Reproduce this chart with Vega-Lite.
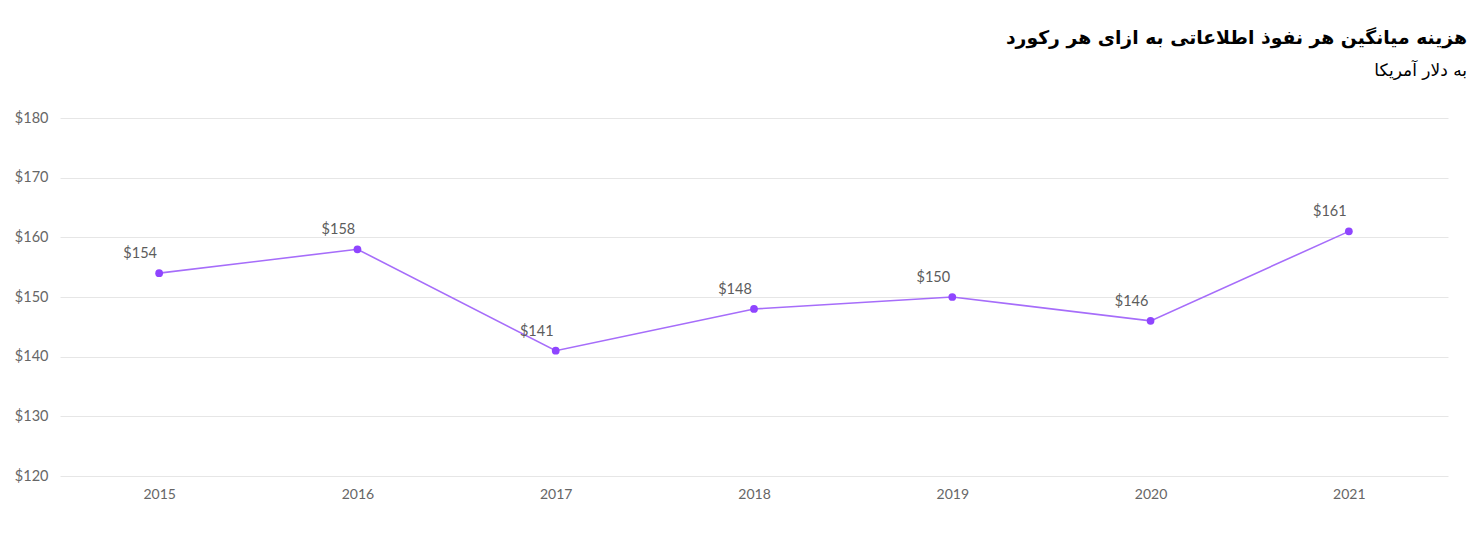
{
  "$schema": "https://vega.github.io/schema/vega-lite/v6.json",
  "width": 1388,
  "height": 358,
  "autosize": "none",
  "padding": {"left": 60, "top": 118, "right": 33, "bottom": 72},
  "background": "white",
  "title": {
    "text": "هزینه میانگین هر  نفوذ اطلاعاتی به ازای هر رکورد",
    "subtitle": "به دلار آمریکا",
    "anchor": "end",
    "dx": 19,
    "offset": 31,
    "font": "DejaVu Sans",
    "fontSize": 18.8,
    "fontWeight": "bold",
    "color": "#000000",
    "subtitleFont": "DejaVu Sans",
    "subtitleFontSize": 17,
    "subtitleColor": "#000000",
    "subtitlePadding": 15
  },
  "data": {
    "values": [
      {"year": "2015", "cost": 154},
      {"year": "2016", "cost": 158},
      {"year": "2017", "cost": 141},
      {"year": "2018", "cost": 148},
      {"year": "2019", "cost": 150},
      {"year": "2020", "cost": 146},
      {"year": "2021", "cost": 161}
    ]
  },
  "encoding": {
    "x": {
      "field": "year",
      "type": "ordinal",
      "scale": {"type": "point", "padding": 0.5},
      "axis": {
        "title": null,
        "labelAngle": 0,
        "domain": false,
        "ticks": false,
        "labelFont": "Lato",
        "labelFontSize": 14,
        "labelColor": "#666666",
        "labelPadding": 11
      }
    },
    "y": {
      "field": "cost",
      "type": "quantitative",
      "scale": {"domain": [120, 180], "nice": false, "zero": false},
      "axis": {
        "title": null,
        "values": [120, 130, 140, 150, 160, 170, 180],
        "format": "$,.0f",
        "domain": false,
        "ticks": false,
        "labelFont": "Lato",
        "labelFontSize": 14.5,
        "labelColor": "#666666",
        "labelPadding": 12,
        "gridColor": "#e6e6e6",
        "gridWidth": 1
      }
    }
  },
  "layer": [
    {"mark": {"type": "line", "color": "#a66dfa", "strokeWidth": 1.6}},
    {"mark": {"type": "point", "filled": true, "color": "#8f45ff", "opacity": 1, "size": 60}},
    {
      "mark": {"type": "text", "dx": -19, "dy": -19, "font": "Lato", "fontSize": 14.5, "color": "#5c5c5c"},
      "encoding": {"text": {"field": "cost", "type": "quantitative", "format": "$,.0f"}}
    }
  ],
  "config": {"view": {"stroke": null}}
}
